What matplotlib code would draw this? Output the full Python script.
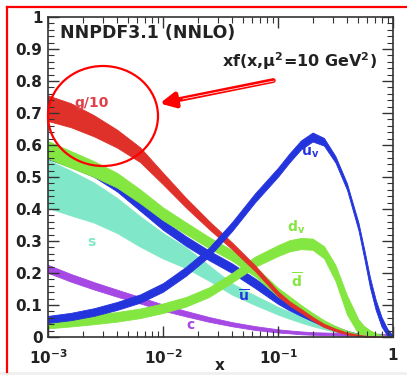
import numpy as np
import matplotlib
matplotlib.use("Agg")
import matplotlib.pyplot as plt
from matplotlib.patches import Ellipse, Rectangle
from matplotlib.lines import Line2D
from matplotlib.ticker import MultipleLocator, NullFormatter

plt.rcParams['font.family'] = ['DejaVu Sans']
plt.rcParams['mathtext.default'] = 'bf'

# x grid
xs = [0.001, 0.00158, 0.00251, 0.00398, 0.00631, 0.01, 0.0158, 0.0251, 0.0398, 0.0631,
      0.1, 0.126, 0.158, 0.2, 0.251, 0.316, 0.398, 0.501, 0.562, 0.631, 0.708, 0.794, 0.891, 1.0]

# central values and band widths, xf(x, Q^2 = 10 GeV^2)
g10 = [0.715, 0.693, 0.66, 0.62, 0.57, 0.495, 0.42, 0.35, 0.285, 0.215, 0.135, 0.105,
       0.082, 0.057, 0.036, 0.022, 0.011, 0.005, 0.003, 0.002, 0.001, 0.0005, 0.0002, 0.0]
g10_w = [0.08, 0.075, 0.066, 0.056, 0.046, 0.036, 0.03, 0.025, 0.021, 0.018, 0.015, 0.013,
         0.012, 0.011, 0.01, 0.008, 0.006, 0.004, 0.003, 0.002, 0.002, 0.001, 0.001, 0.0]

dbar = [0.585, 0.555, 0.525, 0.49, 0.44, 0.385, 0.34, 0.295, 0.255, 0.205, 0.14, 0.115,
        0.09, 0.066, 0.045, 0.028, 0.015, 0.006, 0.004, 0.002, 0.001, 0.0005, 0.0002, 0.0]
dbar_w = [0.055, 0.052, 0.049, 0.046, 0.043, 0.04, 0.037, 0.035, 0.033, 0.031, 0.027, 0.024,
          0.021, 0.018, 0.015, 0.012, 0.009, 0.006, 0.005, 0.004, 0.003, 0.002, 0.001, 0.0]

ubar = [0.57, 0.545, 0.515, 0.47, 0.41, 0.35, 0.30, 0.255, 0.215, 0.168, 0.118, 0.096,
        0.077, 0.058, 0.041, 0.027, 0.015, 0.007, 0.004, 0.002, 0.001, 0.0005, 0.0002, 0.0]
ubar_w = [0.028, 0.028, 0.029, 0.03, 0.03, 0.03, 0.03, 0.03, 0.03, 0.03, 0.029, 0.026,
          0.022, 0.018, 0.015, 0.012, 0.009, 0.006, 0.005, 0.004, 0.003, 0.002, 0.001, 0.0]

s = [0.478, 0.45, 0.42, 0.38, 0.33, 0.285, 0.248, 0.2, 0.15, 0.115, 0.082, 0.068,
     0.055, 0.043, 0.032, 0.022, 0.013, 0.006, 0.004, 0.002, 0.001, 0.0005, 0.0002, 0.0]
s_w = [0.15, 0.14, 0.125, 0.11, 0.095, 0.08, 0.065, 0.048, 0.035, 0.03, 0.024, 0.022,
       0.02, 0.018, 0.015, 0.012, 0.009, 0.006, 0.004, 0.003, 0.002, 0.001, 0.0005, 0.0]

c = [0.213, 0.185, 0.16, 0.137, 0.115, 0.092, 0.073, 0.055, 0.04, 0.028, 0.019, 0.016,
     0.013, 0.011, 0.01, 0.009, 0.008, 0.008, 0.007, 0.007, 0.006, 0.006, 0.005, 0.003]
c_w = [0.025, 0.024, 0.023, 0.022, 0.02, 0.019, 0.017, 0.015, 0.013, 0.012, 0.01, 0.009,
       0.009, 0.008, 0.008, 0.008, 0.008, 0.008, 0.008, 0.008, 0.008, 0.008, 0.007, 0.006]

uv = [0.055, 0.064, 0.078, 0.097, 0.12, 0.155, 0.205, 0.265, 0.345, 0.435, 0.515, 0.56,
      0.6, 0.625, 0.61, 0.555, 0.47, 0.345, 0.26, 0.17, 0.1, 0.048, 0.015, 0.0]
uv_w = [0.022, 0.023, 0.024, 0.025, 0.026, 0.027, 0.028, 0.028, 0.028, 0.028, 0.028, 0.028,
        0.028, 0.028, 0.024, 0.02, 0.02, 0.024, 0.028, 0.032, 0.032, 0.03, 0.022, 0.008]

dv = [0.042, 0.048, 0.055, 0.063, 0.074, 0.09, 0.11, 0.14, 0.185, 0.235, 0.27, 0.285,
      0.292, 0.29, 0.265, 0.2, 0.1, 0.032, 0.018, 0.01, 0.005, 0.002, 0.0005, 0.0]
dv_w = [0.03, 0.03, 0.03, 0.03, 0.03, 0.03, 0.03, 0.03, 0.03, 0.032, 0.034, 0.035,
        0.035, 0.035, 0.038, 0.05, 0.06, 0.045, 0.032, 0.022, 0.014, 0.008, 0.004, 0.0]

RED = '#e0302a'
GREEN = '#84e640'
BLUE = '#2434dc'
CYAN = '#80e8c8'
PURPLE = '#a648e4'

# label text, position (x, y) and colour
labels = [('g/10', 0.0024, 0.73, '#e0404a'),
          (r'$u_v$', 0.19, 0.575, BLUE),
          (r'$d_v$', 0.1435, 0.344, GREEN),
          (r'$\overline{d}$', 0.146, 0.175, GREEN),
          (r'$\overline{u}$', 0.0506, 0.128, BLUE),
          ('s', 0.00237, 0.297, CYAN),
          ('c', 0.0172, 0.0375, PURPLE)]


def band(ax, y, w, color):
    y = np.array(y)
    w = np.array(w)
    ax.fill_between(xs, np.clip(y - w / 2, 0, None), y + w / 2, facecolor=color,
                    edgecolor=color, lw=0.6)


fig = plt.figure(figsize=(4.07, 3.75), dpi=100)
ax = fig.add_axes([48 / 407, 38 / 375, 345 / 407, 320 / 375])

band(ax, s, s_w, CYAN)
band(ax, c, c_w, PURPLE)
band(ax, ubar, ubar_w, BLUE)
band(ax, dbar, dbar_w, GREEN)
band(ax, dv, dv_w, GREEN)
band(ax, g10, g10_w, RED)
band(ax, uv, uv_w, BLUE)

for txt, lx, ly, col in labels:
    ax.text(lx, ly, txt, color=col, fontsize=10, fontweight='bold', ha='center', va='center')

ax.set_xscale('log')
ax.set_xlim(1e-3, 1)
ax.set_ylim(0, 1)

ax.set_xticks([1e-3, 1e-2, 1e-1, 1])
ax.set_xticklabels([r'$10^{-3}$', r'$10^{-2}$', r'$10^{-1}$', '1'])
ax.xaxis.set_minor_formatter(NullFormatter())
ax.set_yticks(np.arange(0, 1.01, 0.1))
ax.set_yticklabels(['0', '0.1', '0.2', '0.3', '0.4', '0.5', '0.6', '0.7', '0.8', '0.9', '1'])
ax.yaxis.set_minor_locator(MultipleLocator(0.02))

ax.tick_params(which='both', direction='in', top=True, right=True, colors='#333333',
               labelcolor='#222222', labelsize=11)
ax.tick_params(which='major', length=8, width=1, pad=4)
ax.tick_params(which='minor', length=4, width=0.8)
ax.tick_params(axis='x', which='major', pad=8)
for lab in ax.get_xticklabels() + ax.get_yticklabels():
    lab.set_fontweight('bold')
for sp in ax.spines.values():
    sp.set_color('#333333')
    sp.set_linewidth(1.2)

fig.text(220 / 407, 1 - 366 / 375, 'x', fontsize=11, fontweight='bold', color='#222222',
         ha='center', va='center')

ax.text(0.035, 0.95, 'NNPDF3.1 (NNLO)', transform=ax.transAxes, fontsize=12.5,
        fontweight='bold', color='#222222', ha='left', va='center')
ax.text(0.954, 0.8625, r'xf(x,$\mu^2$=10 GeV$^2$)', transform=ax.transAxes, fontsize=11.5,
        fontweight='bold', color='#222222', ha='right', va='center')

# red frame and bottom strip
fig.patches.append(Rectangle((0, 0), 1, 3 / 375, transform=fig.transFigure,
                             color='#f0f0f0', lw=0))
fig.lines.append(Line2D([7 / 407, 7 / 407], [3 / 375, 368 / 375], transform=fig.transFigure,
                        color='red', lw=1.6))
fig.lines.append(Line2D([7 / 407, 1], [368 / 375, 368 / 375], transform=fig.transFigure,
                        color='red', lw=1.6))

# red circle and arrow
fig.patches.append(Ellipse((103 / 407, 1 - 116 / 375), 110 / 407, 100 / 375,
                           transform=fig.transFigure, fill=False, ec='red', lw=1.6))
ax.annotate('', xy=(157 / 407, 1 - 104 / 375), xytext=(276 / 407, 1 - 80 / 375),
            xycoords='figure fraction', textcoords='figure fraction',
            arrowprops=dict(arrowstyle='-|>', color='red', lw=3.5, mutation_scale=22))
fig.lines.append(Line2D([183 / 407, 274 / 407], [1 - 99 / 375, 1 - 81 / 375],
                        transform=fig.transFigure, color='white', lw=0.5))

fig.savefig('out.png', dpi=100)
